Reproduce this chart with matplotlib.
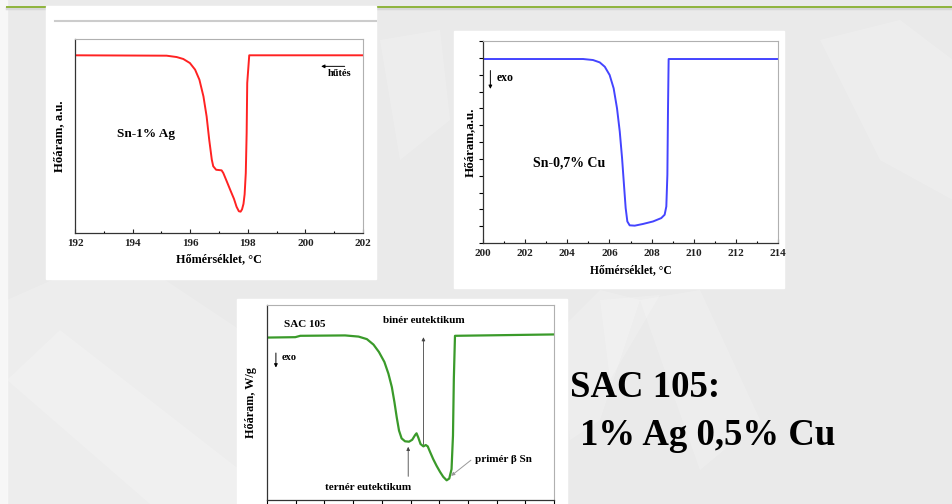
import matplotlib
matplotlib.use("Agg")
import matplotlib.pyplot as plt
from matplotlib.patches import Rectangle, Polygon

plt.rcParams['font.family'] = ['Liberation Serif', 'DejaVu Serif']
plt.rcParams['font.weight'] = 'bold'

# Sn-1% Ag cooling curve (heat flow, a.u.)
ag_temp = [192.0, 195.18, 195.53, 195.76, 195.99, 196.17, 196.32, 196.46, 196.57,
           196.66, 196.75, 196.80, 196.90, 197.09, 197.15, 197.27, 197.41, 197.52,
           197.61, 197.69, 197.75, 197.80, 197.85, 197.89, 197.93, 197.96, 197.98,
           198.05, 202.0]
ag_flow = [0.916, 0.914, 0.907, 0.897, 0.876, 0.842, 0.790, 0.704, 0.601,
           0.481, 0.378, 0.344, 0.326, 0.323, 0.309, 0.266, 0.215, 0.176,
           0.135, 0.112, 0.110, 0.122, 0.150, 0.200, 0.309, 0.515, 0.773,
           0.916, 0.916]

# Sn-0,7% Cu cooling curve
cu_temp = [200.0, 204.75, 205.22, 205.54, 205.78, 206.01, 206.20, 206.36, 206.49,
           206.60, 206.69, 206.77, 206.85, 206.96, 207.20, 207.59, 208.07, 208.46,
           208.62, 208.70, 208.75, 208.78, 208.81, 214.0]
cu_flow = [10.93, 10.93, 10.87, 10.73, 10.47, 9.98, 9.19, 8.00, 6.62,
           5.04, 3.46, 2.08, 1.28, 1.05, 1.03, 1.13, 1.28, 1.48,
           1.68, 2.17, 4.05, 8.00, 10.93, 10.93]

# SAC 105 cooling curve (W/g, unlabelled axes)
sac_x = [0.0, 0.985, 1.16, 2.72, 3.19, 3.48, 3.71, 3.90, 4.09, 4.23, 4.35, 4.44,
         4.52, 4.60, 4.69, 4.81, 4.95, 5.06, 5.16, 5.21, 5.27, 5.35, 5.45, 5.53,
         5.60, 5.68, 5.79, 5.91, 6.03, 6.14, 6.26, 6.35, 6.43, 6.48, 6.51, 6.55, 10.0]
sac_y = [0.833, 0.835, 0.842, 0.844, 0.838, 0.825, 0.797, 0.759, 0.708, 0.648, 0.579, 0.502,
         0.424, 0.356, 0.316, 0.301, 0.299, 0.309, 0.333, 0.342, 0.321, 0.287, 0.275, 0.282,
         0.275, 0.247, 0.210, 0.175, 0.144, 0.119, 0.101, 0.110, 0.158, 0.330, 0.622, 0.842, 0.849]

ag_ticks = [192, 194, 196, 198, 200, 202]
cu_ticks = [200, 202, 204, 206, 208, 210, 212, 214]

W, H = 953, 504
fig = plt.figure(figsize=(W / 100, H / 100), dpi=100)
fig.patch.set_facecolor('#eaeaea')

# slide background in pixel coordinates
bg = fig.add_axes([0, 0, 1, 1])
bg.set_xlim(0, W)
bg.set_ylim(H, 0)
bg.axis('off')
bg.add_patch(Rectangle((0, 0), W, H, color='#eaeaea', zorder=0))
bg.add_patch(Rectangle((0, 0), 7, H, color='#f7f7f7', zorder=1))
# faint crystal streaks
streaks = [
    [(7, 300), (120, 250), (240, 330), (240, 504), (7, 504)],
    [(7, 380), (60, 330), (240, 470), (240, 504), (150, 504)],
    [(560, 330), (600, 290), (640, 300), (600, 420), (570, 440)],
    [(640, 300), (700, 290), (760, 420), (700, 470)],
    [(820, 40), (900, 20), (953, 60), (953, 200), (880, 160)],
    [(380, 40), (440, 30), (450, 120), (400, 160)],
    [(600, 300), (660, 295), (610, 380)],
]
for pts in streaks:
    bg.add_patch(Polygon(pts, closed=True, color='white', alpha=0.18, lw=0, zorder=1))
bg.plot([7, W], [8, 8], color='#d8d8d8', lw=2.5, zorder=2)
bg.plot([7, W], [7, 7], color='#8fb43c', lw=1.4, zorder=2)

# white picture panels
bg.add_patch(Rectangle((46, 6), 330, 273, color='white', zorder=3))
bg.plot([55, 376], [20.5, 20.5], color='#cccccc', lw=1.5, zorder=4)
bg.add_patch(Rectangle((454, 31), 330, 257, color='white', zorder=3))
bg.add_patch(Rectangle((237, 299), 330, 210, color='white', zorder=3))

bg.text(570, 397, 'SAC 105:', fontsize=26.5, fontweight='bold', color='black',
        ha='left', va='baseline', zorder=5)
bg.text(580, 445, '1% Ag 0,5% Cu', fontsize=26.5, fontweight='bold', color='black',
        ha='left', va='baseline', zorder=5)


def px_axes(x0, y0, x1, y1):
    ax = fig.add_axes([x0 / W, 1 - y1 / H, (x1 - x0) / W, (y1 - y0) / H])
    ax.patch.set_alpha(0)
    for s in ['left', 'bottom']:
        ax.spines[s].set_color('#333333')
        ax.spines[s].set_linewidth(0.9)
    for s in ['top', 'right']:
        ax.spines[s].set_color('#b0b0b0')
        ax.spines[s].set_linewidth(0.8)
    return ax


# Sn-1% Ag
ax1 = px_axes(75, 39, 363, 233)
ax1.plot(ag_temp, ag_flow, color='#ff2222', lw=1.4)
ax1.set_xlim(192, 202)
ax1.set_ylim(0, 1)
ax1.set_xticks(ag_ticks)
ax1.set_xticks(range(193, 202, 2), minor=True)
ax1.set_yticks([])
ax1.tick_params(axis='x', which='major', direction='in', length=3, width=0.8,
                labelsize=8, pad=4, colors='#222222')
ax1.tick_params(axis='x', which='minor', direction='in', length=1.5, width=0.8)
ax1.set_xlabel('Hőmérséklet, °C', fontsize=8.7, fontweight='bold', labelpad=4)
ax1.set_ylabel('Hőáram, a.u.', fontsize=9.2, fontweight='bold', labelpad=7)
ax1.text(193.47, 0.51, 'Sn-1% Ag', fontsize=9.5, fontweight='bold', va='center')
ax1.text(200.76, 0.821, 'hűtés', fontsize=7.5, fontweight='bold', va='center')
ax1.annotate('', xy=(200.45, 0.859), xytext=(201.46, 0.859),
             arrowprops=dict(arrowstyle='-|>', color='black', lw=0.7,
                             mutation_scale=5))

# Sn-0,7% Cu
ax2 = px_axes(483, 41, 778, 243)
ax2.plot(cu_temp, cu_flow, color='#4444ff', lw=1.4)
ax2.set_xlim(200, 214)
ax2.set_ylim(0, 12)
ax2.set_xticks(cu_ticks)
ax2.set_xticks(range(201, 214, 2), minor=True)
ax2.set_yticks(range(0, 13))
ax2.tick_params(axis='y', direction='out', length=3, width=0.8, labelleft=False)
ax2.tick_params(axis='x', which='major', direction='in', length=3, width=0.8,
                labelsize=8, pad=4, colors='#222222')
ax2.tick_params(axis='x', which='minor', direction='in', length=1.5, width=0.8)
ax2.set_xlabel('Hőmérséklet, °C', fontsize=8.4, fontweight='bold', labelpad=5)
ax2.set_ylabel('Hőáram,a.u.', fontsize=9.4, fontweight='bold', labelpad=2)
ax2.text(202.37, 4.74, 'Sn-0,7% Cu', fontsize=10, fontweight='bold', va='center')
ax2.text(200.63, 9.78, 'exo', fontsize=8.5, fontweight='bold', va='center')
ax2.annotate('', xy=(200.35, 8.99), xytext=(200.35, 10.41),
             arrowprops=dict(arrowstyle='-|>', color='black', lw=0.7,
                             mutation_scale=5))

# SAC 105
ax3 = px_axes(267, 305, 554, 500)
ax3.plot(sac_x, sac_y, color='#3a9a2a', lw=1.6)
ax3.set_xlim(0, 10)
ax3.set_ylim(0, 1)
ax3.set_xticks(range(0, 11))
ax3.set_yticks([])
ax3.tick_params(axis='x', direction='out', length=4, width=0.8, labelbottom=False)
ax3.set_ylabel('Hőáram, W/g', fontsize=8.7, fontweight='bold', labelpad=7)
ax3.text(0.58, 0.90, 'SAC 105', fontsize=8, fontweight='bold', va='center')
ax3.text(0.52, 0.729, 'exo', fontsize=7.5, fontweight='bold', va='center')
ax3.annotate('', xy=(0.31, 0.665), xytext=(0.31, 0.768),
             arrowprops=dict(arrowstyle='-|>', color='black', lw=0.7,
                             mutation_scale=5))
ax3.text(5.45, 0.923, 'binér eutektikum', fontsize=8, fontweight='bold',
         ha='center', va='center')
ax3.annotate('', xy=(5.45, 0.849), xytext=(5.45, 0.27),
             arrowprops=dict(arrowstyle='-|>', color='#444444', lw=0.6,
                             mutation_scale=5))
ax3.text(3.53, 0.064, 'ternér eutektikum', fontsize=8, fontweight='bold',
         ha='center', va='center')
ax3.annotate('', xy=(4.92, 0.287), xytext=(4.92, 0.107),
             arrowprops=dict(arrowstyle='-|>', color='#444444', lw=0.6,
                             mutation_scale=5))
ax3.text(7.24, 0.21, 'primér β Sn', fontsize=8, fontweight='bold', va='center')
ax3.annotate('', xy=(6.34, 0.115), xytext=(7.18, 0.213),
             arrowprops=dict(arrowstyle='-|>', color='#999999', lw=0.7,
                             mutation_scale=5))

fig.savefig('out.png', dpi=100)
